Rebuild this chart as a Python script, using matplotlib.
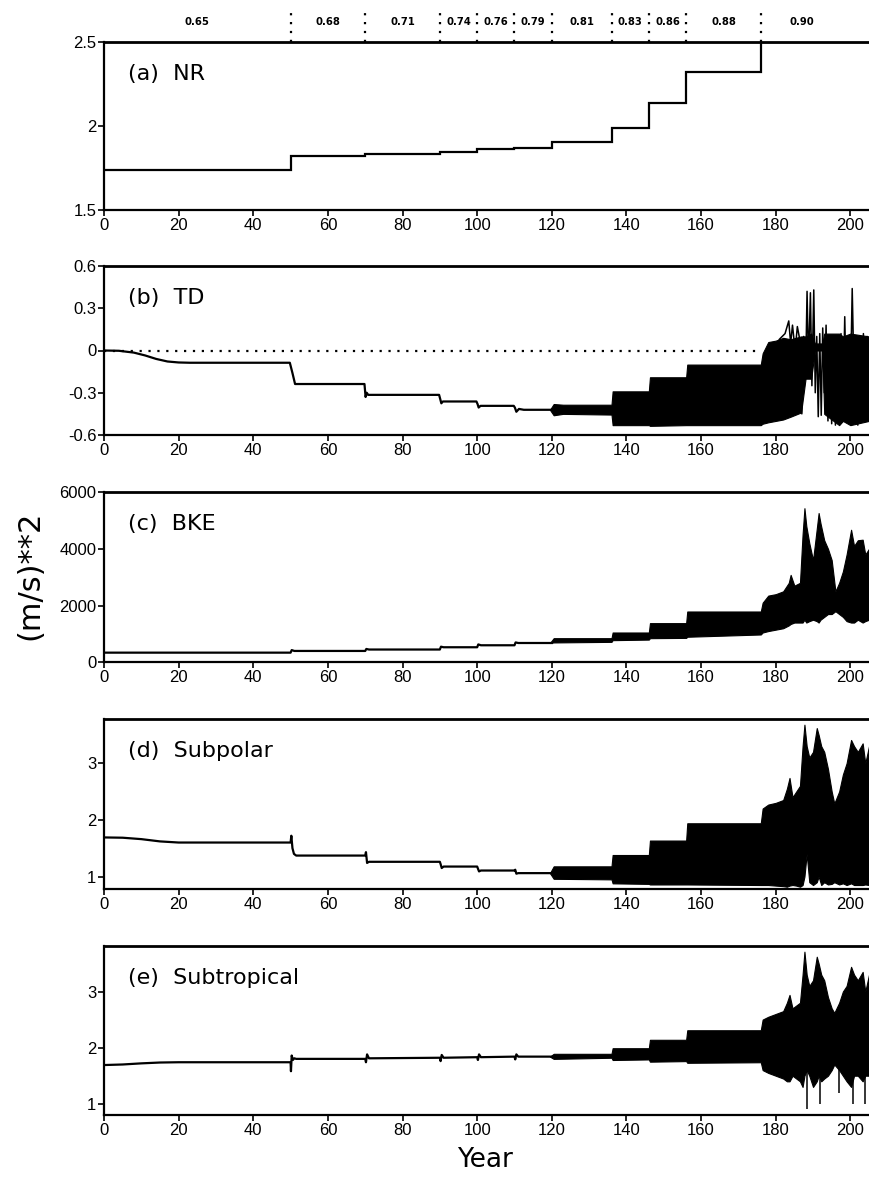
import numpy as np
import matplotlib
matplotlib.use("Agg")
import matplotlib.pyplot as plt
import matplotlib.transforms as mtransforms

plt.rcParams['font.family'] = ['Liberation Sans', 'DejaVu Sans']

# ---- data -------------------------------------------------------------
# (a) NR: step function over the parameter segments
nr_edges = [0, 50, 70, 90, 100, 110, 120, 136, 146, 156, 176, 205]
nr_vals = [1.74, 1.82, 1.835, 1.846, 1.864, 1.870, 1.904, 1.988, 2.136, 2.319, 2.50]
seg_labels = ['0.65', '0.68', '0.71', '0.74', '0.76', '0.79', '0.81', '0.83', '0.86', '0.88', '0.90']

# (b) TD
td_t = [0, 4, 8, 11, 14, 17, 20, 23, 49.8, 50.5, 51.2, 69.8, 70.1, 70.4, 70.8,
        89.8, 90.1, 90.4, 90.8, 99.8, 100.1, 100.4, 100.9, 109.8, 110.1, 110.5,
        111.2, 112.5, 120]
td_v = [0, -0.002, -0.015, -0.035, -0.06, -0.078, -0.085, -0.087, -0.087, -0.16,
        -0.238, -0.238, -0.33, -0.30, -0.315, -0.315, -0.345, -0.375, -0.362,
        -0.362, -0.38, -0.405, -0.393, -0.393, -0.405, -0.435, -0.415, -0.421, -0.421]
td_band_t = [119.5, 120.5, 123, 136, 136.3, 146, 146.3, 156, 156.3, 176, 176.5,
             178, 180, 182, 184, 186.8, 188, 189.5, 190.5, 192.5, 193, 197, 198,
             200, 205]
td_band_hi = [-0.421, -0.38, -0.385, -0.385, -0.29, -0.29, -0.19, -0.19, -0.10,
              -0.10, -0.02, 0.06, 0.07, 0.09, 0.08, 0.10, 0.10, 0.12, 0.05, 0.05,
              0.12, 0.12, 0.10, 0.12, 0.10]
td_band_lo = [-0.421, -0.46, -0.45, -0.455, -0.53, -0.53, -0.535, -0.53, -0.53,
              -0.53, -0.52, -0.51, -0.50, -0.49, -0.47, -0.44, -0.20, -0.20, 0.0,
              0.0, -0.45, -0.53, -0.50, -0.53, -0.50]
td_spk_t = [180.5, 181, 182.5, 183.5, 184, 184.5, 185.2, 185.8, 186.5, 187.0,
            187.5, 188.0, 188.4, 188.8, 189.3, 189.7, 190.2, 190.6, 191.0, 191.4,
            191.8, 192.2, 192.6, 193.0, 193.5, 194, 194.5, 195, 195.5, 196, 196.5,
            197, 197.5, 198, 198.5, 199, 199.5, 200.0, 200.5, 201, 201.5, 202,
            202.5, 203, 203.5, 204, 204.5, 205]
td_spk_v = [0.05, 0.08, 0.12, 0.21, 0.05, 0.18, 0.0, 0.17, 0.07, -0.45, 0.1,
            -0.2, 0.42, -0.1, 0.41, -0.25, 0.43, -0.3, 0.1, -0.47, 0.12, -0.46,
            0.16, -0.3, 0.18, -0.5, 0.05, -0.52, 0.1, -0.53, 0.0, -0.5, 0.12,
            -0.45, 0.24, -0.4, 0.05, -0.3, 0.44, -0.2, 0.1, -0.53, 0.08, -0.5,
            0.12, -0.45, 0.1, -0.3]

# (c) BKE
bke_t = [0, 50, 50.3, 51, 70, 70.3, 71, 90, 90.3, 91, 100, 100.3, 101, 110,
         110.3, 111, 120]
bke_v = [340, 340, 430, 400, 400, 470, 450, 450, 550, 530, 530, 630, 600, 600,
         700, 680, 680]
bke_band_t = [119.5, 120.5, 136, 136.3, 146, 146.3, 156, 156.3, 176, 176.5, 178,
              180, 182, 183.5, 184, 185, 186.5, 187.2, 187.7, 188.2, 189, 190,
              191, 191.5, 192, 193, 194, 195, 196, 197, 198, 199, 200.2, 201,
              202, 203.3, 204, 205]
bke_band_hi = [680, 850, 850, 1050, 1050, 1380, 1380, 1790, 1790, 2100, 2350,
               2400, 2500, 2800, 3080, 2700, 2800, 4500, 5430, 4800, 4200, 3600,
               4700, 5260, 4900, 4300, 4000, 3600, 2500, 2800, 3200, 3800, 4670,
               4100, 4300, 4320, 3800, 4000]
bke_band_lo = [680, 700, 720, 780, 800, 850, 860, 900, 980, 1050, 1100, 1150,
               1200, 1300, 1350, 1400, 1400, 1400, 1500, 1400, 1450, 1500, 1450,
               1400, 1500, 1600, 1700, 1700, 1800, 1700, 1600, 1450, 1400, 1400,
               1500, 1400, 1450, 1500]

# (d) Subpolar
sp_t = [0, 5, 10, 15, 20, 50, 50.2, 50.5, 50.9, 51.5, 70, 70.2, 70.5, 71, 90,
        90.2, 90.5, 91, 100, 100.2, 100.5, 101, 110, 110.2, 110.5, 111, 120]
sp_v = [1.69, 1.685, 1.66, 1.62, 1.60, 1.60, 1.72, 1.5, 1.4, 1.37, 1.37, 1.43,
        1.24, 1.26, 1.26, 1.22, 1.15, 1.176, 1.176, 1.14, 1.09, 1.106, 1.106,
        1.12, 1.05, 1.06, 1.06]
chaos_t = [119.5, 120.5, 136, 136.3, 146, 146.3, 156, 156.3, 176, 176.5, 178,
           180, 182, 183, 183.7, 184.5, 185.5, 186.5, 187.2, 187.7, 188.3, 189,
           190, 191, 191.5, 192.2, 193, 194, 195, 195.7, 197, 198, 199, 200.2,
           201, 202, 203.3, 204, 205]
sp_band_hi = [1.06, 1.18, 1.18, 1.38, 1.38, 1.635, 1.635, 1.94, 1.94, 2.2, 2.27,
              2.3, 2.35, 2.55, 2.74, 2.4, 2.5, 2.6, 3.3, 3.68, 3.3, 3.1, 3.2,
              3.62, 3.5, 3.3, 3.2, 2.9, 2.5, 2.29, 2.5, 2.8, 3.0, 3.41, 3.3, 3.2,
              3.35, 3.0, 3.3]
sp_band_lo = [1.06, 0.96, 0.95, 0.88, 0.87, 0.86, 0.86, 0.86, 0.85, 0.85, 0.85,
              0.84, 0.83, 0.82, 0.84, 0.85, 0.84, 0.82, 0.85, 1.0, 1.4, 0.9, 0.85,
              0.9, 1.0, 0.85, 0.9, 0.86, 0.87, 0.9, 0.86, 0.88, 0.85, 0.88, 0.85,
              0.85, 0.85, 0.86, 0.85]

# (e) Subtropical
st_t = [0, 5, 10, 15, 20, 50, 50.1, 50.3, 50.6, 51, 51.5, 70, 70.2, 70.5, 71,
        90, 90.2, 90.5, 91, 100, 100.2, 100.5, 101, 110, 110.2, 110.5, 111, 120]
st_v = [1.69, 1.70, 1.72, 1.735, 1.74, 1.74, 1.58, 1.86, 1.78, 1.81, 1.80, 1.80,
        1.74, 1.88, 1.81, 1.82, 1.76, 1.87, 1.82, 1.83, 1.78, 1.88, 1.83, 1.84,
        1.79, 1.88, 1.84, 1.84]
st_band_hi = [1.84, 1.89, 1.89, 1.99, 1.99, 2.14, 2.14, 2.31, 2.31, 2.5, 2.55,
              2.6, 2.65, 2.8, 2.94, 2.7, 2.75, 2.8, 3.3, 3.71, 3.3, 3.1, 3.2,
              3.62, 3.5, 3.3, 3.2, 2.9, 2.7, 2.62, 2.8, 3.0, 3.1, 3.44, 3.3, 3.2,
              3.35, 3.0, 3.3]
st_band_lo = [1.84, 1.80, 1.82, 1.78, 1.79, 1.75, 1.76, 1.73, 1.74, 1.6, 1.55,
              1.5, 1.45, 1.4, 1.4, 1.5, 1.45, 1.4, 1.3, 1.5, 1.6, 1.5, 1.3, 1.4,
              1.5, 1.4, 1.45, 1.5, 1.6, 1.7, 1.6, 1.5, 1.4, 1.3, 1.5, 1.5, 1.4,
              1.5, 1.5]
st_spk_t = [188.3, 191.8, 197.0, 200.8, 203.8]
st_spk_v = [0.9, 1.0, 1.2, 1.0, 1.0]

# ---- figure -------------------------------------------------------------
W, H = 869, 1183
fig = plt.figure(figsize=(W / 100, H / 100), dpi=100)

def rect(top, bottom):
    return [104 / W, 1 - bottom / H, 1 - 104 / W, (bottom - top) / H]

LW = 1.6

def style(ax, ylim, yticks, ylabels, label):
    ax.set_xlim(0, 205)
    ax.set_ylim(*ylim)
    ax.set_xticks(range(0, 201, 20))
    ax.set_yticks(yticks)
    ax.set_yticklabels(ylabels)
    ax.spines['right'].set_visible(False)
    for s in ('left', 'bottom'):
        ax.spines[s].set_linewidth(1.6)
    ax.spines['top'].set_linewidth(2.0)
    ax.tick_params(direction='out', length=4, width=1.2, labelsize=12, pad=1.5)
    ax.text(24 / 765, 1 - 32 / 169, label, transform=ax.transAxes,
            fontsize=16, va='center', ha='left', family='DejaVu Sans')

# (a)
ax = fig.add_axes(rect(42, 210))
ax.stairs(nr_vals, nr_edges, baseline=None, color='black', lw=LW)
style(ax, (1.5, 2.5), [1.5, 2, 2.5], ['1.5', '2', '2.5'], '(a)  NR')
trans = mtransforms.blended_transform_factory(ax.transData, ax.transAxes)
for x in nr_edges[1:-1]:
    ax.plot([x, x], [1.0, 1.2], transform=trans, clip_on=False, color='black',
            lw=1.6, ls=(0, (1, 3)))
mids = [(nr_edges[i] + nr_edges[i + 1]) / 2 for i in range(len(seg_labels))]
mids[-1] = 187
for x, s in zip(mids, seg_labels):
    ax.text(x, 1.12, s, transform=trans, ha='center', va='center', fontsize=8,
            fontweight='bold', fontstretch='condensed',
            family=['Liberation Sans Narrow', 'DejaVu Sans'])

# (b)
ax = fig.add_axes(rect(266, 435))
ax.plot([0, 176], [0, 0], color='black', lw=1.6, ls=(0, (1, 3)))
ax.plot(td_t, td_v, color='black', lw=LW)
ax.fill_between(td_band_t, td_band_lo, td_band_hi, color='black', lw=0.8)
ax.plot(td_spk_t, td_spk_v, color='black', lw=1.1)
style(ax, (-0.6, 0.6), [-0.6, -0.3, 0, 0.3, 0.6],
      ['-0.6', '-0.3', '0', '0.3', '0.6'], '(b)  TD')

# (c)
ax = fig.add_axes(rect(492, 662.3))
ax.plot(bke_t, bke_v, color='black', lw=LW)
ax.fill_between(bke_band_t, bke_band_lo, bke_band_hi, color='black', lw=0.8)
style(ax, (0, 6000), [0, 2000, 4000, 6000], ['0', '2000', '4000', '6000'],
      '(c)  BKE')

# (d)
ax = fig.add_axes(rect(719, 889))
ax.plot(sp_t, sp_v, color='black', lw=LW)
ax.fill_between(chaos_t, sp_band_lo, sp_band_hi, color='black', lw=0.8)
style(ax, (0.78, 3.78), [1, 2, 3], ['1', '2', '3'], '(d)  Subpolar')

# (e)
ax = fig.add_axes(rect(945.5, 1115))
ax.plot(st_t, st_v, color='black', lw=LW)
ax.fill_between(chaos_t, st_band_lo, st_band_hi, color='black', lw=0.8)
ax.vlines(st_spk_t, st_spk_v, 2.0, color='black', lw=1.1)
style(ax, (0.8, 3.82), [1, 2, 3], ['1', '2', '3'], '(e)  Subtropical')

fig.text(30 / W, 1 - 575 / H, '(m/s)**2', rotation=90, fontsize=22,
         ha='center', va='center', family='DejaVu Sans')
fig.text(485 / W, 1 - 1160 / H, 'Year', fontsize=19, ha='center', va='center',
         family='DejaVu Sans')

fig.savefig('out.png', dpi=100)
